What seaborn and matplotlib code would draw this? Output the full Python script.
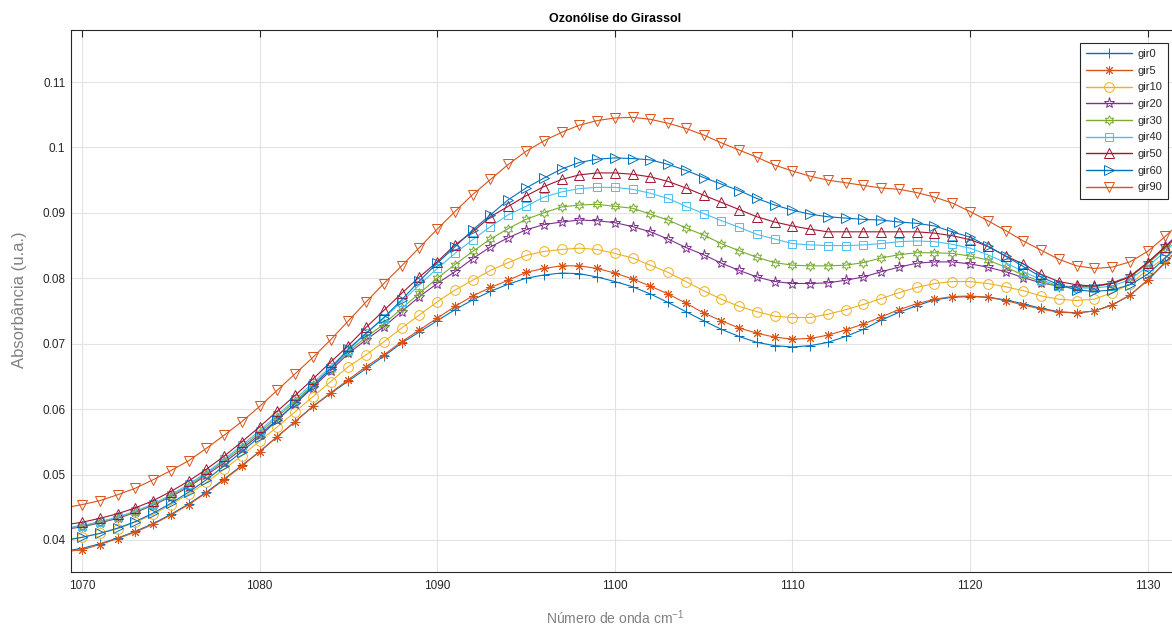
import numpy as np
import pandas as pd
import matplotlib
matplotlib.use("Agg")
import matplotlib.pyplot as plt
import seaborn as sns

# Wavenumbers (cm^-1)
numero_onda = list(range(1069, 1133))

gir0 = [0.0383,
        0.0387, 0.0394, 0.0403, 0.0413, 0.0425, 0.0439, 0.0455, 0.0473, 0.0493, 0.0514, 0.0535, 0.0558, 0.0581, 0.0604, 0.0624, 0.0643,
        0.0662, 0.0681, 0.0701, 0.0718, 0.0735, 0.0752, 0.0767, 0.0780, 0.0791, 0.0800, 0.0805, 0.0808, 0.0807, 0.0802, 0.0795,
        0.0787, 0.0776, 0.0763, 0.0749, 0.0735, 0.0722, 0.0711, 0.0702, 0.0697, 0.0695, 0.0697, 0.0702, 0.0711, 0.0722, 0.0736,
        0.0748, 0.0758, 0.0767, 0.0771, 0.0772, 0.0771, 0.0767, 0.0761, 0.0754, 0.0749, 0.0747, 0.0750, 0.0759, 0.0774, 0.0797, 0.0824,
        0.0852]
gir5 = [0.0382,
        0.0385, 0.0393, 0.0402, 0.0412, 0.0424, 0.0438, 0.0454, 0.0472, 0.0492, 0.0513, 0.0535, 0.0558, 0.0581, 0.0604, 0.0625, 0.0645,
        0.0665, 0.0683, 0.0703, 0.0721, 0.0739, 0.0757, 0.0773, 0.0786, 0.0797, 0.0809, 0.0815, 0.0819, 0.0819, 0.0815, 0.0808,
        0.0799, 0.0788, 0.0776, 0.0762, 0.0747, 0.0735, 0.0724, 0.0716, 0.0710, 0.0707, 0.0708, 0.0713, 0.0721, 0.0730, 0.0741,
        0.0752, 0.0761, 0.0768, 0.0772, 0.0773, 0.0771, 0.0766, 0.0759, 0.0753, 0.0748, 0.0747, 0.0750, 0.0759, 0.0774, 0.0797, 0.0825,
        0.0853]
gir10 = [0.0400,
         0.0404, 0.0410, 0.0417, 0.0427, 0.0439, 0.0454, 0.0470, 0.0488, 0.0508, 0.0529, 0.0551, 0.0573, 0.0596, 0.0619, 0.0642, 0.0665,
         0.0683, 0.0703, 0.0724, 0.0744, 0.0764, 0.0782, 0.0797, 0.0812, 0.0824, 0.0835, 0.0841, 0.0844, 0.0846, 0.0844, 0.0838,
         0.0831, 0.0820, 0.0809, 0.0795, 0.0781, 0.0768, 0.0757, 0.0749, 0.0742, 0.0740, 0.0740, 0.0745, 0.0752, 0.0760, 0.0769,
         0.0778, 0.0786, 0.0792, 0.0795, 0.0795, 0.0792, 0.0787, 0.0781, 0.0773, 0.0768, 0.0766, 0.0768, 0.0778, 0.0791, 0.0813, 0.0832,
         0.0852]
gir20 = [0.0416,
         0.0420, 0.0426, 0.0433, 0.0442, 0.0453, 0.0466, 0.0481, 0.0499, 0.0518, 0.0539, 0.0561, 0.0584, 0.0608, 0.0633, 0.0659, 0.0685,
         0.0706, 0.0726, 0.0749, 0.0772, 0.0792, 0.0810, 0.0830, 0.0848, 0.0862, 0.0874, 0.0882, 0.0886, 0.0889, 0.0888, 0.0885,
         0.0879, 0.0871, 0.0860, 0.0847, 0.0836, 0.0823, 0.0812, 0.0802, 0.0795, 0.0792, 0.0792, 0.0793, 0.0797, 0.0802, 0.0810,
         0.0817, 0.0823, 0.0825, 0.0825, 0.0822, 0.0817, 0.0810, 0.0801, 0.0793, 0.0788, 0.0787, 0.0788, 0.0793, 0.0803, 0.0824, 0.0849,
         0.0875]
gir30 = [0.0417,
         0.0421, 0.0427, 0.0434, 0.0443, 0.0454, 0.0467, 0.0483, 0.0501, 0.0521, 0.0542, 0.0564, 0.0588, 0.0612, 0.0637, 0.0662, 0.0688,
         0.0710, 0.0730, 0.0754, 0.0777, 0.0800, 0.0821, 0.0841, 0.0860, 0.0876, 0.0890, 0.0900, 0.0909, 0.0912, 0.0913, 0.0910,
         0.0907, 0.0898, 0.0889, 0.0877, 0.0866, 0.0853, 0.0842, 0.0832, 0.0824, 0.0820, 0.0819, 0.0819, 0.0820, 0.0824, 0.0831,
         0.0836, 0.0839, 0.0839, 0.0838, 0.0834, 0.0828, 0.0817, 0.0805, 0.0795, 0.0787, 0.0786, 0.0787, 0.0792, 0.0802, 0.0822, 0.0846,
         0.0871]
gir40 = [0.0418,
         0.0422, 0.0428, 0.0435, 0.0444, 0.0455, 0.0469, 0.0485, 0.0503, 0.0523, 0.0545, 0.0567, 0.0591, 0.0615, 0.0640, 0.0665, 0.0690,
         0.0716, 0.0739, 0.0764, 0.0790, 0.0815, 0.0838, 0.0859, 0.0879, 0.0897, 0.0910, 0.0924, 0.0932, 0.0937, 0.0939, 0.0939,
         0.0936, 0.0930, 0.0922, 0.0910, 0.0899, 0.0888, 0.0878, 0.0867, 0.0860, 0.0853, 0.0851, 0.0850, 0.0850, 0.0851, 0.0853,
         0.0856, 0.0857, 0.0856, 0.0852, 0.0846, 0.0836, 0.0824, 0.0810, 0.0798, 0.0788, 0.0785, 0.0785, 0.0788, 0.0798, 0.0818, 0.0841,
         0.0866]
gir50 = [0.0423,
         0.0427, 0.0433, 0.0440, 0.0449, 0.0460, 0.0474, 0.0490, 0.0508, 0.0528, 0.0550, 0.0573, 0.0597, 0.0621, 0.0646, 0.0672, 0.0697,
         0.0725, 0.0751, 0.0777, 0.0802, 0.0825, 0.0851, 0.0871, 0.0894, 0.0910, 0.0926, 0.0940, 0.0951, 0.0958, 0.0961, 0.0961,
         0.0959, 0.0955, 0.0948, 0.0938, 0.0927, 0.0916, 0.0905, 0.0894, 0.0886, 0.0880, 0.0875, 0.0871, 0.0871, 0.0871, 0.0871,
         0.0871, 0.0871, 0.0869, 0.0865, 0.0859, 0.0849, 0.0834, 0.0822, 0.0806, 0.0795, 0.0790, 0.0788, 0.0792, 0.0802, 0.0824, 0.0848,
         0.0873]
gir60 = [0.0399,
         0.0404, 0.0410, 0.0418, 0.0428, 0.0441, 0.0456, 0.0473, 0.0492, 0.0513, 0.0535, 0.0558, 0.0583, 0.0609, 0.0635, 0.0662, 0.0692,
         0.0716, 0.0740, 0.0767, 0.0796, 0.0823, 0.0848, 0.0874, 0.0897, 0.0920, 0.0938, 0.0953, 0.0967, 0.0977, 0.0982, 0.0984,
         0.0983, 0.0981, 0.0974, 0.0965, 0.0954, 0.0944, 0.0934, 0.0922, 0.0912, 0.0904, 0.0898, 0.0894, 0.0892, 0.0890, 0.0889,
         0.0886, 0.0884, 0.0880, 0.0871, 0.0863, 0.0849, 0.0834, 0.0818, 0.0802, 0.0790, 0.0782, 0.0780, 0.0782, 0.0790, 0.0806, 0.0831,
         0.0858]
gir90 = [0.0449,
         0.0454, 0.0460, 0.0469, 0.0479, 0.0492, 0.0506, 0.0521, 0.0540, 0.0560, 0.0581, 0.0604, 0.0629, 0.0654, 0.0679, 0.0706, 0.0735,
         0.0764, 0.0792, 0.0819, 0.0847, 0.0875, 0.0902, 0.0928, 0.0951, 0.0974, 0.0994, 0.1010, 0.1023, 0.1034, 0.1041, 0.1045,
         0.1046, 0.1043, 0.1037, 0.1029, 0.1019, 0.1007, 0.0996, 0.0985, 0.0973, 0.0964, 0.0956, 0.0950, 0.0946, 0.0942, 0.0938,
         0.0936, 0.0931, 0.0924, 0.0915, 0.0902, 0.0888, 0.0873, 0.0857, 0.0843, 0.0829, 0.0819, 0.0815, 0.0817, 0.0825, 0.0841, 0.0864,
         0.0890]

nomes = ["gir0", "gir5", "gir10", "gir20", "gir30", "gir40", "gir50", "gir60", "gir90"]
series = [gir0, gir5, gir10, gir20, gir30, gir40, gir50, gir60, gir90]

x_ticks = [1070, 1080, 1090, 1100, 1110, 1120, 1130]
y_ticks = [0.04, 0.05, 0.06, 0.07, 0.08, 0.09, 0.1, 0.11]
y_labels = ["0.04", "0.05", "0.06", "0.07", "0.08", "0.09", "0.1", "0.11"]

cores = ["#0072BD", "#D95319", "#EDB120", "#7E2F8E", "#77AC30",
         "#4DBEEE", "#A2142F", "#0072BD", "#D95319"]
# plus, asterisk, circle, pentagram, hexagram, square, triangles
marcadores = ["+", (8, 2, 0), "o", "*", (6, 1, 0), "s", "^", ">", "v"]
tamanhos = [7, 6.5, 7, 8, 7, 5.5, 7, 7, 7]

df = pd.DataFrame({
    "numero_onda": np.tile(numero_onda, len(nomes)),
    "absorbancia": np.concatenate(series),
    "amostra": np.repeat(nomes, len(numero_onda)),
})

sns.set_style("white")
plt.rcParams["font.family"] = ["Liberation Sans", "DejaVu Sans"]

W, H = 1172, 626
fig = plt.figure(figsize=(W / 100, H / 100), dpi=100)
ax_left, ax_right, ax_top, ax_bottom = 71, 1190, 30, 572
ax = fig.add_axes([ax_left / W, 1 - ax_bottom / H,
                   (ax_right - ax_left) / W, (ax_bottom - ax_top) / H])

for nome, cor, mk, ms in zip(nomes, cores, marcadores, tamanhos):
    sub = df[df["amostra"] == nome]
    sns.lineplot(data=sub, x="numero_onda", y="absorbancia", ax=ax,
                 color=cor, marker=mk, markersize=ms, linewidth=0.8,
                 markerfacecolor="none", markeredgecolor=cor,
                 markeredgewidth=0.7, label=nome, clip_on=True)

px_per_unit = 17.76
x0 = 1070 - (82 - ax_left) / px_per_unit
ax.set_xlim(x0, x0 + (ax_right - ax_left) / px_per_unit)
ax.set_ylim(0.0351, 0.11795)

ax.set_xticks(x_ticks)
ax.set_xticklabels([str(t) for t in x_ticks])
ax.set_yticks(y_ticks)
ax.set_yticklabels(y_labels)
ax.tick_params(axis="both", direction="in", length=5, width=0.8,
               colors="#262626", labelsize=8.5, top=True, right=False)
ax.tick_params(axis="x", pad=6)
ax.tick_params(axis="y", pad=4)
ax.grid(True, color="#e3e3e3", linewidth=0.8)
ax.set_axisbelow(True)

for side in ["left", "bottom", "top"]:
    ax.spines[side].set_color("#262626")
    ax.spines[side].set_linewidth(0.8)
ax.spines["right"].set_visible(False)

ax.set_xlabel("")
ax.set_ylabel("")
fig.text(615 / W, 1 - 618 / H, r"Número de onda cm$^{\mathregular{-1}}$",
         ha="center", va="center", fontsize=10, color="#808080")
fig.text(20 / W, 1 - 300 / H, "Absorbância (u.a.)", ha="center",
         va="center", rotation=90, fontsize=12, color="#808080")
fig.text(615 / W, 1 - 19 / H, "Ozonólise do Girassol", ha="center",
         va="center", fontsize=9, fontweight="bold", color="black")

leg = ax.legend(loc="upper right", bbox_to_anchor=(1168 / W, 1 - 43 / H),
                bbox_transform=fig.transFigure, fontsize=8, frameon=True,
                fancybox=False, framealpha=1, edgecolor="#262626",
                handlelength=4.1, labelspacing=0.6, borderpad=0.55,
                handletextpad=0.45, borderaxespad=0)
leg.get_frame().set_linewidth(0.8)
for handle, cor in zip(leg.get_lines(), cores):
    handle.set_color(cor)
    handle.set_markeredgecolor(cor)
    handle.set_linewidth(1.0)

fig.savefig("out.png", dpi=100)
